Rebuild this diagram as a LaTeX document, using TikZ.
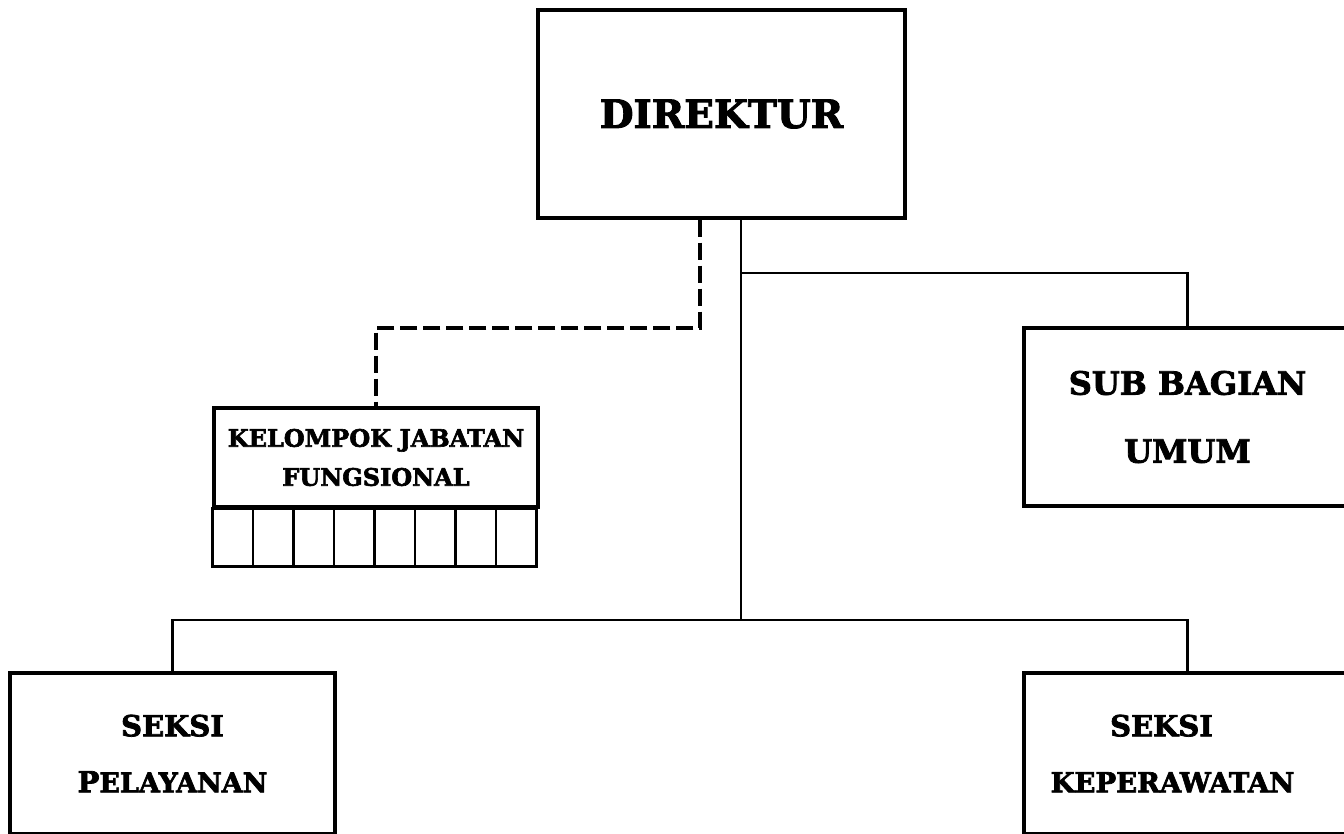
\documentclass[tikz,border=0pt]{standalone}
\usepackage{fontspec}
\setmainfont{DejaVu Serif}[BoldFeatures={FakeBold=2.5}]
\usetikzlibrary{calc}

\tikzset{
  kotak/.style={draw, line width=3.2pt, rectangle, align=center, inner sep=0pt},
  garis/.style={line width=2.8pt},
  putus/.style={line width=4pt, dash pattern=on 17pt off 6pt},
}

\begin{document}
\begin{tikzpicture}[x=1pt,y=-1pt]

\useasboundingbox (0,0) rectangle (1344,834);
\clip (0,0) rectangle (1344,834);

% Kotak-kotak
\node[kotak, minimum width=367pt, minimum height=208pt,
      font=\fontsize{39}{48}\bfseries\selectfont] (dir) at (721.5,114) {DIREKTUR};

\node[kotak, minimum width=327pt, minimum height=178pt,
      font=\fontsize{32}{68}\bfseries\selectfont] (sbu) at (1187.5,417) {SUB BAGIAN\\UMUM};

\node[kotak, minimum width=324pt, minimum height=99pt,
      font=\fontsize{24}{39}\bfseries\selectfont] (kjf) at (376,457.5)
      {\raisebox{-4pt}{KELOMPOK JABATAN}\\\raisebox{-4pt}{FUNGSIONAL}};

\node[kotak, minimum width=325pt, minimum height=161pt,
      font=\fontsize{29}{56}\bfseries\selectfont] (sp) at (172.5,753.5)
      {SEKSI\\P{\fontsize{27}{56}\selectfont ELAYANAN}};

\node[kotak, minimum width=327pt, minimum height=161pt,
      font=\fontsize{29}{56}\bfseries\selectfont] (sk) at (1187.5,753.5)
      {SEKSI\hspace*{52pt}\\\fontsize{27.5}{56}\selectfont KEPERAWATAN\hspace*{30pt}};

% Kotak kecil di bawah jabatan fungsional
\draw[line width=3.2pt] (kjf.south west) rectangle ++(324,58);
\foreach \i in {1,...,7}
  \draw[line width=2.4pt] ($(kjf.south west)+(40.5*\i,0)$) -- ++(0,58);

% Titik cabang
\coordinate (jA) at (741,273);
\coordinate (jB) at (741,620);
\coordinate (jD) at (700,328);

% Garis komando
\draw[garis] (dir.south -| jB) -- (jB);
\draw[garis] (jA) -| (sbu.north);
\draw[garis] (sp.north) |- (jB) -| (sk.north);

% Garis koordinasi
\draw[putus] (dir.south -| jD) -- (jD) -| (kjf.north);

\end{tikzpicture}
\end{document}
